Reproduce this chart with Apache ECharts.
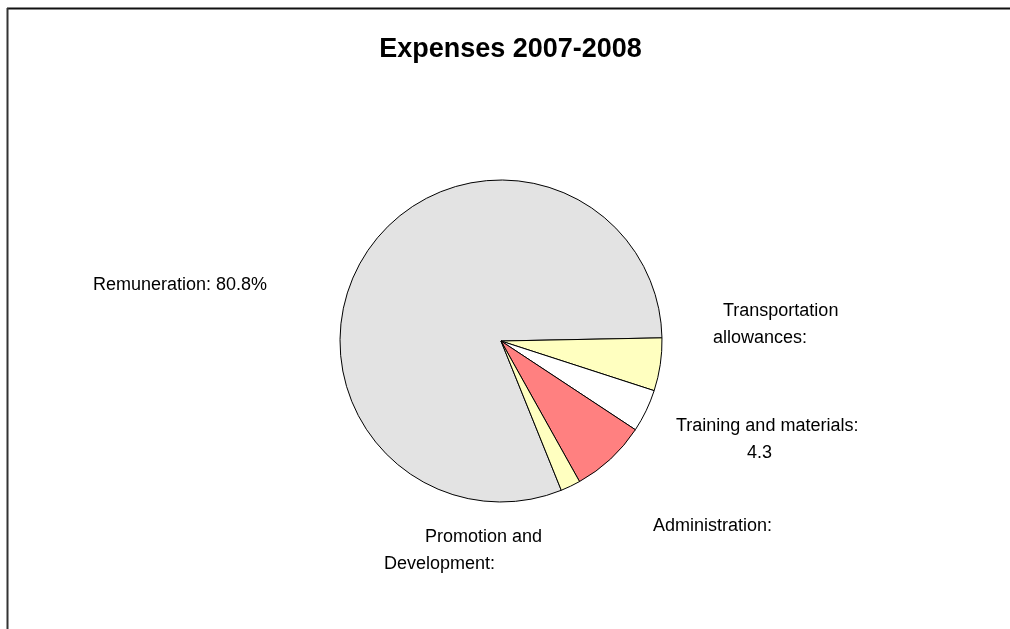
<!DOCTYPE html>
<html>
<head>
<meta charset="utf-8">
<script src="https://cdn.jsdelivr.net/npm/echarts@6/dist/echarts.min.js"></script>
<style>
  html, body { margin: 0; padding: 0; background: #ffffff; }
  #chart { width: 1010px; height: 629px; }
</style>
</head>
<body>
<div id="chart"></div>
<script>
// Expense categories and their shares (percent of total)
const categories = [
  'Remuneration',
  'Transportation allowances',
  'Training and materials',
  'Administration',
  'Promotion and Development'
];
const shares = [80.8, 5.3, 4.3, 7.6, 2.0];
const sliceColors = ['#E3E3E3', '#FFFFC0', '#FFFFFF', '#FF8080', '#FFFFC0'];

// Label wording per slice; {v} is replaced by the slice value
const labelLines = [
  ['Remuneration: {v}%'],
  ['Transportation', 'allowances:'],
  ['Training and materials:', '{v}'],
  ['Administration:'],
  ['Promotion and', 'Development:']
];

// Label placement: left edge, top edge, and per-line indent
const labelPlacement = [
  { x: 93,  y: 272, indent: [0] },
  { x: 713, y: 298, indent: [10, 0] },
  { x: 676, y: 413, indent: [0, 71] },
  { x: 653, y: 513, indent: [0] },
  { x: 384, y: 524, indent: [41, 0] }
];

const FONT = '"Liberation Sans", Arial, sans-serif';

const rich = {};
labelPlacement.forEach((p, i) => {
  p.indent.forEach((ind, j) => {
    rich['l' + i + '_' + j] = {
      fontFamily: FONT, fontSize: 18, color: '#000', lineHeight: 27,
      padding: [0, 0, 0, ind]
    };
  });
});

const chart = echarts.init(document.getElementById('chart'), null, { renderer: 'canvas' });

chart.setOption({
  backgroundColor: '#ffffff',
  animation: false,
  title: {
    text: 'Expenses 2007-2008',
    left: 505.5,
    top: 31,
    textAlign: 'center',
    textStyle: { fontFamily: FONT, fontSize: 27, fontWeight: 'bold', color: '#000' }
  },
  graphic: [
    { type: 'line', shape: { x1: 7, y1: 8.5, x2: 1010, y2: 8.5 }, style: { stroke: '#111', lineWidth: 2 } },
    { type: 'line', shape: { x1: 7.5, y1: 8, x2: 7.5, y2: 629 }, style: { stroke: '#333', lineWidth: 2 } }
  ],
  series: [{
    type: 'pie',
    center: [501, 341],
    radius: 161,
    startAngle: 292,
    clockwise: true,
    avoidLabelOverlap: false,
    data: categories.map((name, i) => ({
      name: name,
      value: shares[i],
      itemStyle: { color: sliceColors[i] }
    })),
    itemStyle: { borderColor: '#000', borderWidth: 1 },
    emphasis: { disabled: true },
    labelLine: { show: false },
    label: {
      show: true,
      position: 'outside',
      align: 'left',
      verticalAlign: 'top',
      rich: rich,
      formatter: (params) => {
        const i = params.dataIndex;
        return labelLines[i]
          .map((t, j) => '{l' + i + '_' + j + '|' + t.replace('{v}', params.value) + '}')
          .join('\n');
      }
    },
    labelLayout: (params) => {
      const p = labelPlacement[params.dataIndex];
      return { x: p.x, y: p.y, align: 'left', verticalAlign: 'top' };
    }
  }]
});
</script>
</body>
</html>
